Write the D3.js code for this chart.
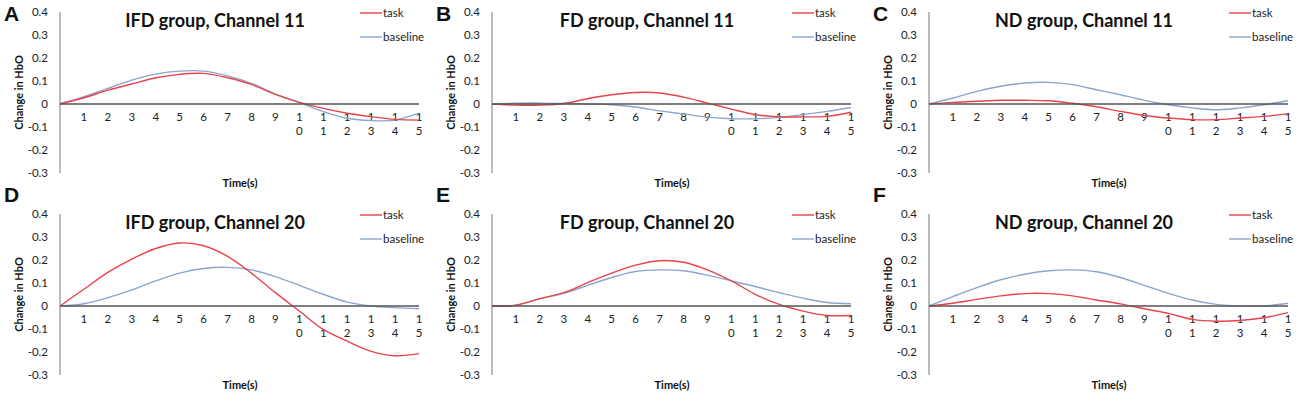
<!DOCTYPE html>
<html>
<head>
<meta charset="utf-8">
<script src="https://cdn.jsdelivr.net/npm/d3@7"></script>
<style>
    body { margin: 0; background: #fff; }
    svg { display: block; font-family: Lato, "Liberation Sans", sans-serif; }
    .tick-label { font-size: 11.5px; fill: #222; }
    .title { font-size: 18px; font-weight: bold; fill: #111; }
    .axis-title { font-size: 11px; font-weight: bold; fill: #111; }
    .panel-letter { font-family: "Liberation Sans", Arial, sans-serif; font-size: 21px; font-weight: bold; fill: #111; }
</style>
</head>
<body>
<div id="chart"></div>
<script>
'use strict';

// time points 0..15 s, only 1..15 get a label
var timePoints = [0, 1, 2, 3, 4, 5, 6, 7, 8, 9, 10, 11, 12, 13, 14, 15];
var timeLabels = ["", "1", "2", "3", "4", "5", "6", "7", "8", "9", "10", "11", "12", "13", "14", "15"];
var yTicks = [0.4, 0.3, 0.2, 0.1, 0, -0.1, -0.2, -0.3];
var yTickLabels = ["0.4", "0.3", "0.2", "0.1", "0", "-0.1", "-0.2", "-0.3"];

var panelLetters = ["A", "B", "C", "D", "E", "F"];
var panelTitles = ["IFD group, Channel 11", "FD group, Channel 11", "ND group, Channel 11",
                   "IFD group, Channel 20", "FD group, Channel 20", "ND group, Channel 20"];
var seriesNames = ["task", "baseline"];

var ifd11Task = [0, 0.027, 0.060, 0.087, 0.114, 0.129, 0.133, 0.114, 0.085, 0.042, 0.007, -0.019, -0.040, -0.055, -0.067, -0.070];
var ifd11Base = [0, 0.032, 0.068, 0.104, 0.130, 0.143, 0.143, 0.122, 0.090, 0.043, 0.007, -0.033, -0.062, -0.072, -0.070, -0.040];
var fd11Task = [0, -0.005, -0.005, 0.002, 0.023, 0.040, 0.050, 0.048, 0.030, 0.004, -0.022, -0.046, -0.056, -0.056, -0.054, -0.036];
var fd11Base = [0, 0.003, 0.004, 0.002, 0.000, -0.003, -0.013, -0.030, -0.043, -0.057, -0.064, -0.064, -0.058, -0.046, -0.032, -0.015];
var nd11Task = [0, 0.007, 0.012, 0.016, 0.016, 0.014, 0.003, -0.012, -0.032, -0.050, -0.061, -0.068, -0.068, -0.061, -0.054, -0.042];
var nd11Base = [0, 0.026, 0.055, 0.077, 0.091, 0.094, 0.084, 0.062, 0.040, 0.016, -0.003, -0.017, -0.025, -0.017, -0.003, 0.014];
var ifd20Task = [0, 0.073, 0.146, 0.204, 0.250, 0.274, 0.262, 0.216, 0.143, 0.058, -0.022, -0.102, -0.153, -0.197, -0.216, -0.207];
var ifd20Base = [0, 0.010, 0.036, 0.070, 0.109, 0.143, 0.163, 0.168, 0.157, 0.128, 0.090, 0.051, 0.017, 0.000, -0.007, -0.012];
var fd20Task = [0, 0.004, 0.032, 0.058, 0.102, 0.143, 0.178, 0.197, 0.190, 0.157, 0.109, 0.051, 0.007, -0.022, -0.041, -0.041];
var fd20Base = [0, 0.004, 0.032, 0.055, 0.090, 0.124, 0.150, 0.157, 0.153, 0.134, 0.109, 0.085, 0.058, 0.034, 0.015, 0.010];
var nd20Task = [0, 0.012, 0.029, 0.044, 0.054, 0.054, 0.044, 0.026, 0.009, -0.012, -0.032, -0.058, -0.066, -0.063, -0.051, -0.029];
var nd20Base = [0, 0.041, 0.080, 0.114, 0.138, 0.153, 0.157, 0.149, 0.124, 0.090, 0.055, 0.026, 0.007, 0.000, 0.000, 0.012];

var taskSeries = [ifd11Task, fd11Task, nd11Task, ifd20Task, fd20Task, nd20Task];
var baseSeries = [ifd11Base, fd11Base, nd11Base, ifd20Base, fd20Base, nd20Base];

var colors = {task: "#e8434b", baseline: "#8ba5cf"};

var width = 1300, height = 403;
var colLeft = [60, 492, 929],
    plotWidth = 359,
    rowTop = [12, 214],
    letterBase = [21, 202],
    plotHeight = 161;

var svg = d3.select("#chart").append("svg")
    .attr("width", width)
    .attr("height", height);

panelTitles.forEach(function(title, i) {
    var col = i % 3, row = Math.floor(i / 3);
    var x0 = colLeft[col], y0 = rowTop[row];

    var x = d3.scaleLinear()
        .domain([0, 15])
        .range([x0, x0 + plotWidth]);
    var y = d3.scaleLinear()
        .domain([-0.3, 0.4])
        .range([y0 + plotHeight, y0]);

    var g = svg.append("g").attr("class", "panel");

    // panel letter
    g.append("text")
        .attr("class", "panel-letter")
        .attr("x", x0 - 56)
        .attr("y", letterBase[row])
        .text(panelLetters[i]);

    // y axis line
    g.append("line")
        .attr("x1", x0).attr("x2", x0)
        .attr("y1", y(0.4)).attr("y2", y(-0.3))
        .attr("stroke", "#8c8c8c")
        .attr("stroke-width", 1.2);

    g.selectAll(".ylab")
        .data(yTicks)
        .enter()
        .append("text")
        .attr("class", "tick-label")
        .attr("x", x0 - 12)
        .attr("y", function(d) { return y(d); })
        .attr("dy", "0.35em")
        .style("text-anchor", "end")
        .text(function(d, k) { return yTickLabels[k]; });

    // x labels, digits stacked like the original
    var xl = g.selectAll(".xlab")
        .data(timePoints.filter(function(t) { return timeLabels[t] !== ""; }))
        .enter()
        .append("text")
        .attr("class", "tick-label")
        .style("text-anchor", "middle")
        .attr("y", y(0) + 17);
    xl.each(function(t) {
        var chars = timeLabels[t].split("");
        var el = d3.select(this);
        chars.forEach(function(c, k) {
            el.append("tspan")
                .attr("x", x(t))
                .attr("dy", k === 0 ? 0 : 14)
                .text(c);
        });
    });

    g.append("text")
        .attr("class", "axis-title")
        .attr("transform", "translate(" + (x0 - 37) + "," + y(0.05) + ") rotate(-90)")
        .style("text-anchor", "middle")
        .text("Change in HbO");

    g.append("text")
        .attr("class", "axis-title")
        .attr("x", x0 + 180)
        .attr("y", y0 + 175)
        .style("text-anchor", "middle")
        .text("Time(s)");

    g.append("text")
        .attr("class", "title")
        .attr("x", x0 + 155)
        .attr("y", y0 + 15)
        .style("text-anchor", "middle")
        .text(title);

    var line = d3.line()
        .x(function(d, k) { return x(timePoints[k]); })
        .y(function(d) { return y(d); })
        .curve(d3.curveCatmullRom.alpha(0.5));

    g.append("path")
        .datum(baseSeries[i])
        .attr("fill", "none")
        .attr("stroke", colors.baseline)
        .attr("stroke-width", 1.4)
        .attr("d", line);

    g.append("path")
        .datum(taskSeries[i])
        .attr("fill", "none")
        .attr("stroke", colors.task)
        .attr("stroke-width", 1.4)
        .attr("d", line);

    // zero line on top
    g.append("line")
        .attr("x1", x(0)).attr("x2", x(15))
        .attr("y1", y(0)).attr("y2", y(0))
        .attr("stroke", "#555")
        .attr("stroke-width", 1.6);

    // legend
    var legend = g.selectAll(".legend")
        .data(seriesNames)
        .enter()
        .append("g")
        .attr("transform", function(d, k) {
            return "translate(" + (x0 + 300) + "," + (y0 + 1 + k * 24) + ")";
        });
    legend.append("line")
        .attr("x1", 0).attr("x2", 22)
        .attr("stroke", function(d) { return colors[d]; })
        .attr("stroke-width", 1.4);
    legend.append("text")
        .attr("class", "tick-label")
        .attr("x", 23)
        .attr("dy", "0.35em")
        .text(function(d) { return d; });
});
</script>
</body>
</html>
